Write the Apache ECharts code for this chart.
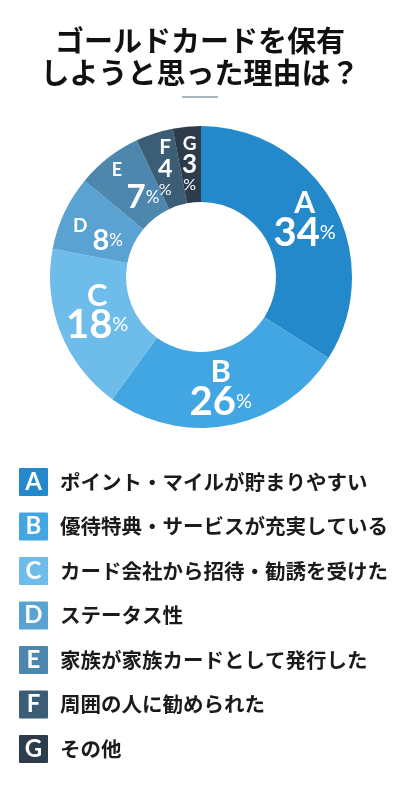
<!DOCTYPE html>
<html><head><meta charset="utf-8">
<script src="https://cdn.jsdelivr.net/npm/echarts@6/dist/echarts.min.js"></script>
<style>html,body{margin:0;padding:0;background:#fff}#c{width:400px;height:800px}</style>
</head><body><div id="c"></div>
<script>
const titleText = 'ゴールドカードを保有\nしようと思った理由は？';
const letters = ['A','B','C','D','E','F','G'];
const reasons = ['ポイント・マイルが貯まりやすい','優待特典・サービスが充実している','カード会社から招待・勧誘を受けた','ステータス性','家族が家族カードとして発行した','周囲の人に勧められた','その他'];
const percents = [34, 26, 18, 8, 7, 4, 3];
const colors = ['#2489ca','#41a6e1','#6dbce9','#5aa2d2','#4d87ad','#3b5d76','#2c3c4b'];

// label style per slice (layout only)
const labelStyle = {
  A: {layout:'stack', l:30, n:40, p:20, offset:[2,-2], lh:0.9},
  B: {layout:'stack', l:31, n:40, p:20, offset:[-2,-3], lh:0.9},
  C: {layout:'stack', l:31, n:40, p:20, offset:[4,-8], lh:0.85},
  D: {layout:'inline', l:19, n:29, p:17, offset:[2,13], lPad:[0,5,30,0], lh:1},
  E: {layout:'stack', l:18, n:33, p:17, offset:[13,3], lPad:[0,52,6,0], lh:1},
  F: {layout:'column', l:21, n:25, p:16, offset:[0,1], lh:1},
  G: {layout:'column', l:19, n:26, p:16, offset:[-0.5,2.5], lh:1}
};
const pieFont = 'Lato, "Open Sans", sans-serif';

const data = letters.map((k, i) => {
  const s = labelStyle[k];
  let fmt;
  if (s.layout === 'stack') fmt = '{l|' + k + '}\n{n|' + percents[i] + '}{p|%}';
  else if (s.layout === 'inline') fmt = '{l|' + k + '}{n|' + percents[i] + '}{p|%}';
  else fmt = '{l|' + k + '}\n{n|' + percents[i] + '}\n{p|%}';
  const lStyle = {fontSize: s.l, fontWeight: 'bold', color: '#fff', fontFamily: pieFont, lineHeight: s.l * s.lh};
  if (s.lPad) lStyle.padding = s.lPad;
  return {
    name: k,
    value: percents[i],
    itemStyle: {color: colors[i]},
    label: {
      formatter: fmt,
      offset: s.offset,
      rich: {
        l: lStyle,
        n: {fontSize: s.n, fontWeight: 'bold', color: '#fff', fontFamily: pieFont, lineHeight: s.n * 0.9 * s.lh},
        p: {fontSize: s.p, fontWeight: 'normal', color: '#fff', fontFamily: pieFont, lineHeight: s.p * 1.1}
      }
    }
  };
});

const legendRich = {
  t: {fontSize: 20.5, fontWeight: 'bold', color: '#1b1b1b', fontFamily: '"Noto Sans CJK JP", sans-serif', padding: [0,0,0,12]}
};
letters.forEach((k, i) => {
  legendRich['b' + k] = {
    width: 29, height: 28, lineHeight: 28, align: 'center', backgroundColor: colors[i],
    color: '#fff', fontSize: 24, fontWeight: 'bold', fontFamily: pieFont, borderRadius: 1
  };
});

const chart = echarts.init(document.getElementById('c'));
chart.setOption({
  backgroundColor: '#fff',
  title: {
    text: titleText, left: 'center', top: 20,
    textStyle: {fontSize: 29, fontWeight: 'bold', color: '#111', lineHeight: 32, fontFamily: '"Noto Sans CJK JP", sans-serif'}
  },
  graphic: [{type: 'rect', left: 182, top: 96, shape: {width: 36, height: 2}, style: {fill: '#a8b6c4'}}],
  legend: {
    orient: 'vertical', left: 9, top: 463, itemGap: 16.5, selectedMode: false,
    icon: 'rect', itemWidth: 0, itemHeight: 0,
    data: letters,
    formatter: name => '{b' + name + '|' + name + '}{t|' + reasons[letters.indexOf(name)] + '}',
    textStyle: {rich: legendRich}
  },
  series: [{
    type: 'pie',
    center: [201, 277],
    radius: [75, 151],
    startAngle: 90,
    clockwise: true,
    silent: true,
    avoidLabelOverlap: false,
    labelLayout: {hideOverlap: false},
    label: {show: true, position: 'inside', align: 'center'},
    labelLine: {show: false},
    emphasis: {disabled: true},
    data: data
  }]
});
</script></body></html>
